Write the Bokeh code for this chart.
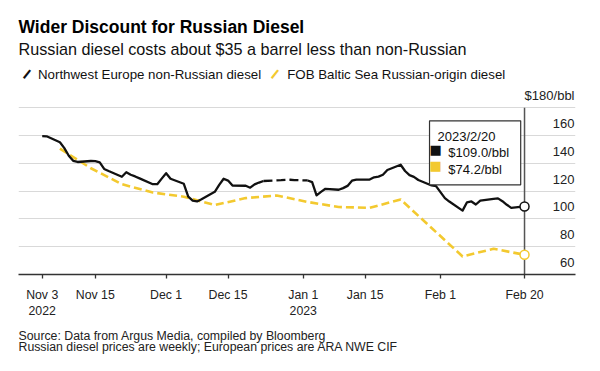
import pandas as pd
from bokeh.plotting import figure
from bokeh.models import Range1d, FixedTicker, Title, Legend, LegendItem, Label
from bokeh.core.properties import value
from bokeh.embed import file_html
from bokeh.resources import INLINE

FONT = "Liberation Sans"
BLACK = "#111111"
YELLOW = "#f3c92f"

title_text = "Wider Discount for Russian Diesel"
subtitle_text = "Russian diesel costs about $35 a barrel less than non-Russian"
series_names = ["Northwest Europe non-Russian diesel", "FOB Baltic Sea Russian-origin diesel"]
source_lines = ["Source: Data from Argus Media, compiled by Bloomberg",
                "Russian diesel prices are weekly; European prices are ARA NWE CIF"]

nwe_dates = ["2022-11-03", "2022-11-04", "2022-11-07", "2022-11-08", "2022-11-09", "2022-11-10", "2022-11-11",
             "2022-11-14", "2022-11-15", "2022-11-16", "2022-11-17", "2022-11-18", "2022-11-21", "2022-11-22",
             "2022-11-23", "2022-11-24", "2022-11-25", "2022-11-28", "2022-11-29", "2022-11-30",
             "2022-12-01", "2022-12-02", "2022-12-05", "2022-12-06", "2022-12-07", "2022-12-08", "2022-12-09",
             "2022-12-12", "2022-12-13", "2022-12-14", "2022-12-15", "2022-12-16", "2022-12-19", "2022-12-20",
             "2022-12-21", "2022-12-22", "2022-12-23", "2022-12-27", "2022-12-28", "2022-12-29", "2022-12-30",
             "2023-01-02", "2023-01-03", "2023-01-04", "2023-01-05", "2023-01-06", "2023-01-09", "2023-01-10",
             "2023-01-11", "2023-01-12", "2023-01-13", "2023-01-16", "2023-01-17", "2023-01-18", "2023-01-19",
             "2023-01-20", "2023-01-23", "2023-01-24", "2023-01-25", "2023-01-26", "2023-01-27", "2023-01-30",
             "2023-01-31", "2023-02-01", "2023-02-02", "2023-02-03", "2023-02-06", "2023-02-07", "2023-02-08",
             "2023-02-09", "2023-02-10", "2023-02-13", "2023-02-14", "2023-02-15", "2023-02-16", "2023-02-17",
             "2023-02-20"]
nwe_values = [159.6, 159.5, 155.2, 151.0, 145.5, 141.8, 141.0, 141.7, 141.6, 140.8, 136.0, 134.5, 130.4, 133.6,
              131.8, 130.6, 129.2, 125.0, 125.0, 129.0,
              132.9, 128.9, 125.3, 116.0, 113.2, 112.6, 114.2, 119.5, 124.5, 128.9, 127.6, 124.0, 123.9, 122.5,
              124.9, 126.2, 127.3, 127.9, 128.1, 128.2, 128.0,
              127.7, 126.5, 117.0, 119.5, 121.7, 121.0, 122.2, 123.8, 127.5, 128.3, 128.4, 130.0, 130.5, 131.8,
              135.2, 139.0, 134.5, 131.5, 130.3, 128.0, 124.1, 123.6,
              119.3, 115.0, 112.5, 106.0, 112.0, 112.6, 110.4, 113.2, 114.5, 114.8, 112.8, 110.2, 108.0, 109.0]

rus_dates = ["2022-11-07", "2022-11-14", "2022-11-21", "2022-11-28", "2022-12-05", "2022-12-12", "2022-12-19",
             "2022-12-26", "2023-01-02", "2023-01-09", "2023-01-16", "2023-01-23", "2023-01-30", "2023-02-06",
             "2023-02-13", "2023-02-20"]
rus_values = [150.6, 136.5, 125.0, 119.0, 116.0, 110.0, 115.0, 116.9, 112.2, 108.6, 108.0, 114.0, 93.5, 73.0,
              78.5, 74.2]

holiday_gap = ["2022-12-23", "2023-01-02"]

x_tick_dates = ["2022-11-03", "2022-11-15", "2022-12-01", "2022-12-15", "2023-01-01", "2023-01-15",
                "2023-02-01", "2023-02-20"]
x_tick_labels = ["Nov 3\n2022", "Nov 15", "Dec 1", "Dec 15", "Jan 1\n2023", "Jan 15", "Feb 1", "Feb 20"]
y_ticks = [60, 80, 100, 120, 140, 160, 180]
y_tick_labels = ["60", "80", "100", "120", "140", "160", "$180/bbl"]
tooltip_date = "2023/2/20"

# ---------------------------------------------------------------------------
nwe_x = pd.to_datetime(nwe_dates)
rus_x = pd.to_datetime(rus_dates)
gap0, gap1 = pd.to_datetime(holiday_gap)
first_day = nwe_x[0]
last_day = nwe_x[-1]

x_start = first_day - pd.Timedelta(days=5.36)
x_end = first_day + pd.Timedelta(days=120.52)
# frame extends above the top gridline so that the legend and the unit label fit inside it
y_top = y_ticks[-1] + 35.5

p = figure(width=596, height=367, x_axis_type="datetime",
           x_range=Range1d(x_start, x_end), y_range=Range1d(y_ticks[0], y_top),
           y_axis_location=None, toolbar_location=None, output_backend="svg",
           min_border_left=18, min_border_right=21, min_border_top=58, min_border_bottom=93,
           outline_line_color=None, title=None, background_fill_color="white",
           border_fill_color="white")

p.xgrid.visible = False
p.ygrid.ticker = FixedTicker(ticks=y_ticks[1:])
p.ygrid.grid_line_color = "#d9d9d9"
p.ygrid.grid_line_width = 1

tick_ms = [int(pd.Timestamp(d).timestamp() * 1000) for d in x_tick_dates]
ax = p.xaxis[0]
ax.ticker = FixedTicker(ticks=tick_ms)
ax.major_label_overrides = {ms: lab for ms, lab in zip(tick_ms, x_tick_labels)}
ax.axis_line_color = "#333333"
ax.axis_line_width = 1.3
ax.major_tick_line_color = "#333333"
ax.major_tick_line_width = 1.3
ax.major_tick_in = 0
ax.major_tick_out = 4
ax.minor_tick_line_color = None
ax.major_label_standoff = 9
ax.major_label_text_font = FONT
ax.major_label_text_font_size = "12.3px"
ax.major_label_text_color = "#222222"

# vertical "current" line at last date
p.segment(x0=[last_day], y0=[y_ticks[0]], x1=[last_day], y1=[y_ticks[-1]],
          line_color="#555555", line_width=1.5)

# y labels (sit above their gridlines on the right)
p.text(x=[x_end] * len(y_ticks), y=y_ticks, text=y_tick_labels,
       text_align="right", text_baseline="alphabetic", x_offset=-1, y_offset=-12,
       text_font=value(FONT), text_font_size="13px", text_color="#222222")

# lines
mask1 = nwe_x <= gap0
mask2 = (nwe_x >= gap0) & (nwe_x <= gap1)
mask3 = nwe_x >= gap1
vals = pd.Series(nwe_values, index=nwe_x)
p.line(x=rus_x, y=rus_values, line_color=YELLOW, line_width=2.6, line_dash="8 4")
p.line(x=nwe_x[mask1], y=vals[mask1].values, line_color=BLACK, line_width=2.3, line_join="round")
p.line(x=nwe_x[mask2], y=vals[mask2].values, line_color=BLACK, line_width=2.3, line_dash="9 4")
p.line(x=nwe_x[mask3], y=vals[mask3].values, line_color=BLACK, line_width=2.3, line_join="round")

# end points
p.scatter(x=[last_day, rus_x[-1]], y=[nwe_values[-1], rus_values[-1]], size=9,
          fill_color="white", line_color=[BLACK, YELLOW], line_width=1.5)

# tooltip box
line2 = "\u00a0\u00a0\u00a0${:.1f}/bbl\u00a0".format(nwe_values[-1])
line3 = "\u00a0\u00a0\u00a0${:.1f}/bbl".format(rus_values[-1])
box = Label(x=last_day, y=y_ticks[-1], x_offset=-95, y_offset=-13,
            text=tooltip_date + "\n" + line2 + "\n" + line3,
            text_align="left", text_baseline="top", text_font=FONT, text_font_size="13px",
            text_color="#111111", text_line_height=1.1, padding=8,
            background_fill_color="white", border_line_color="#333333", border_line_width=1.2)
p.add_layout(box)
for i, col in enumerate([BLACK, YELLOW]):
    sq = Label(x=last_day, y=y_ticks[-1], x_offset=-95, y_offset=-18,
               text="\n" * (i + 1) + "\u25a0", text_align="left", text_baseline="top",
               text_font="DejaVu Sans", text_font_size="13px", text_color=col, text_line_height=1.07)
    p.add_layout(sq)

# legend: labels from a Legend, slanted strokes drawn as rotated dashes
leg_black = p.scatter(x=[last_day], y=[nwe_values[-1]], size=0, marker="dash",
                      line_color=BLACK, line_alpha=0)
leg_yellow = p.scatter(x=[last_day], y=[rus_values[-1]], size=0, marker="dash",
                       line_color=YELLOW, line_alpha=0)
legend = Legend(items=[LegendItem(label=series_names[0], renderers=[leg_black]),
                       LegendItem(label=series_names[1], renderers=[leg_yellow])],
                orientation="horizontal", location=(-6, 187), glyph_width=26, glyph_height=26,
                label_standoff=0, spacing=0, padding=0, margin=0, border_line_color=None,
                background_fill_alpha=0, label_text_font=FONT, label_text_font_size="13.3px",
                label_text_color="#111111", label_height=16)
p.add_layout(legend)
for col, dx in [(BLACK, 7), (YELLOW, 255)]:
    p.add_layout(Label(x=x_start, y=y_top, x_offset=dx, y_offset=-14.5, text="\u2013",
                       text_align="center", text_baseline="middle", angle=0.9,
                       text_font=FONT, text_font_style="bold", text_font_size="21px",
                       text_color=col))

# ---- header (first added sits closest to the plot)
p.add_layout(Title(text=subtitle_text, align="left", text_font=FONT, text_font_size="16.2px",
                   text_font_style="normal", text_color="#111111", standoff=1), "above")
p.add_layout(Title(text=title_text, align="left", text_font=FONT, text_font_size="17.5px",
                   text_font_style="bold", text_color="#000000", standoff=1), "above")

# ---- footer (two tight lines)
p.add_layout(Title(text="\n".join(source_lines), align="left", text_font=FONT, text_font_size="12.3px",
                   text_font_style="normal", text_color="#222222", text_line_height=0.75,
                   standoff=10), "below")

open("out.html", "w").write(file_html(p, INLINE))
